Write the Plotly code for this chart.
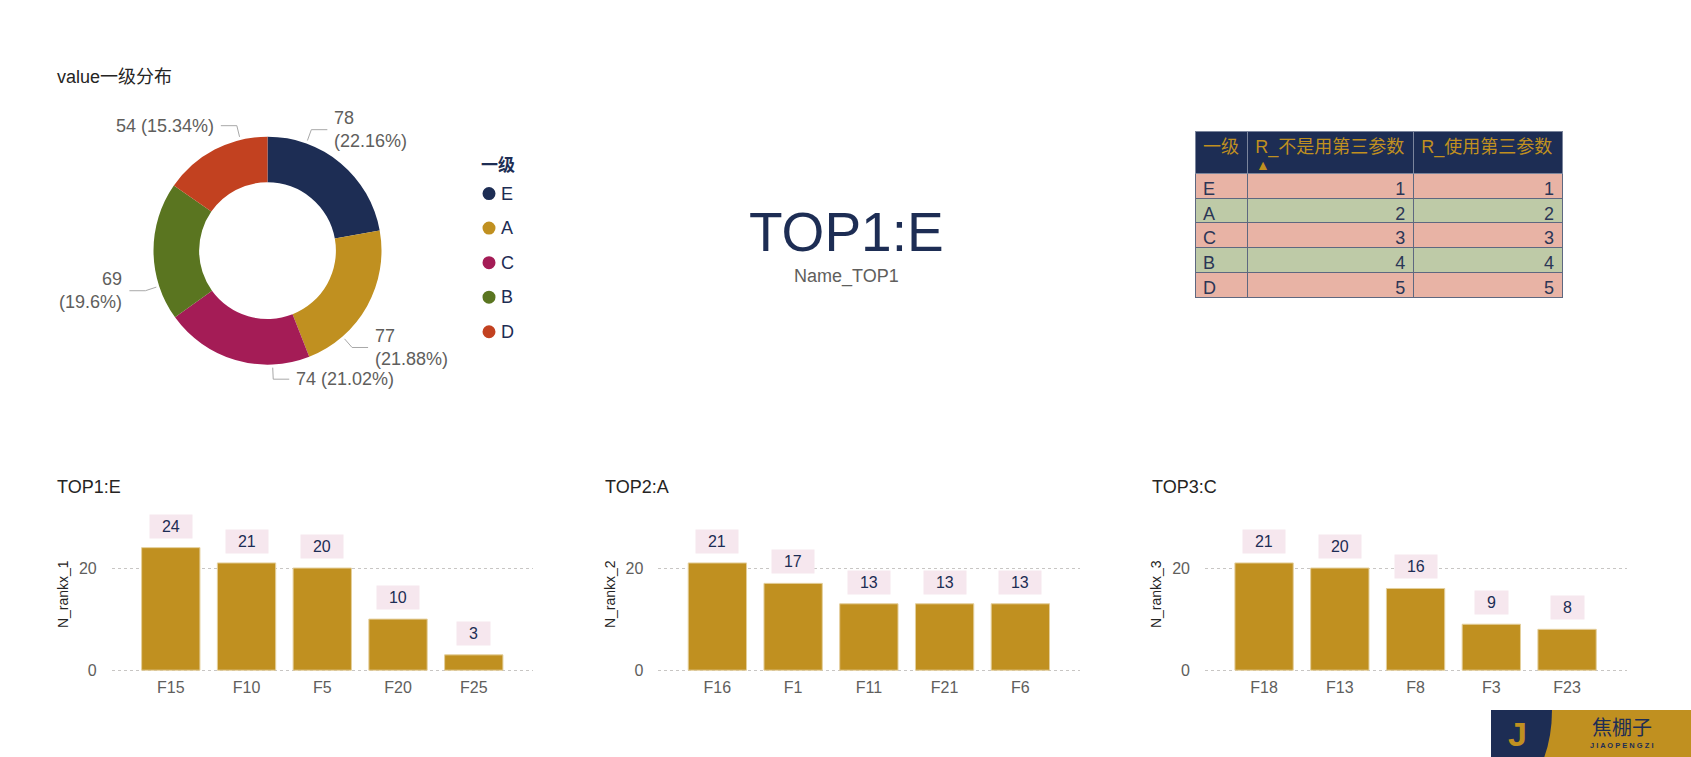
import math
import plotly.graph_objects as go

W = 1691
H = 757            # target picture height (design coordinates)
H_LAYOUT = 765     # figure height; the viewport is photographed at H
SY = H_LAYOUT / H
FONT = "Liberation Sans, Arial, Noto Sans CJK SC, sans-serif"
NAVY = "#1D2D54"
GOLD = "#C09020"
GREY = "#605E5C"
DARK = "#252423"

# ---------------- data ----------------
pie_title = "value一级分布"
legend_title = "一级"
pie_labels = ["E", "A", "C", "B", "D"]
pie_values = [78, 77, 74, 69, 54]
pie_colors = ["#1D2D54", "#C09020", "#A41C56", "#5A7520", "#C24120"]

card_value = "TOP1:E"
card_label = "Name_TOP1"

table_header = ["一级", "R_不是用第三参数", "R_使用第三参数"]
table_cat = ["E", "A", "C", "B", "D"]
table_r_not = [1, 2, 3, 4, 5]
table_r_use = [1, 2, 3, 4, 5]
row_colors = ["#E8B3A5", "#BECAA7", "#E8B3A5", "#BECAA7", "#E8B3A5"]

bar_titles = ["TOP1:E", "TOP2:A", "TOP3:C"]
bar_ytitles = ["N_rankx_1", "N_rankx_2", "N_rankx_3"]
bar_cats_1 = ["F15", "F10", "F5", "F20", "F25"]
bar_vals_1 = [24, 21, 20, 10, 3]
bar_cats_2 = ["F16", "F1", "F11", "F21", "F6"]
bar_vals_2 = [21, 17, 13, 13, 13]
bar_cats_3 = ["F18", "F13", "F8", "F3", "F23"]
bar_vals_3 = [21, 20, 16, 9, 8]


def px(x):
    return x / W


def py(y):
    return 1 - y / H


fig = go.Figure()
shapes = []
annotations = []

# ---------------- donut ----------------
cx, cy, R = 267.5, 250.3, 114
fig.add_trace(go.Pie(
    labels=pie_labels, values=pie_values, sort=False, direction="clockwise",
    rotation=0, hole=0.6, textinfo="none", showlegend=False,
    marker=dict(colors=pie_colors, line=dict(width=0)),
    domain=dict(x=[px(cx - R), px(cx + R)], y=[py(cy + R), py(cy - R)]),
    hoverinfo="label+value+percent",
))

total = sum(pie_values)
acc = 0.0
for lab, v in zip(pie_labels, pie_values):
    a0 = acc / total * 360
    acc += v
    a1 = acc / total * 360
    mid = (a0 + a1) / 2
    q1 = a0 + 0.25 * (a1 - a0)
    q3 = a0 + 0.75 * (a1 - a0)

    def vdist(t):
        m = t % 180
        return min(m, 180 - m)
    th = q1 if vdist(q1) <= vdist(q3) else q3
    s, c = math.sin(math.radians(th)), math.cos(math.radians(th))
    x0, y0 = cx + 117 * s, cy - 117 * c
    x1, y1 = cx + 128.5 * s, cy - 128.5 * c
    side = 1 if s > 0 else -1
    x2 = x1 + side * 16
    shapes.append(dict(type="path", xref="paper", yref="paper",
                       path=f"M {px(x0)},{py(y0)} L {px(x1)},{py(y1)} L {px(x2)},{py(y1)}",
                       line=dict(color="#A8A8A8", width=1)))
    pct = v / total * 100
    pct_s = f"{pct:.2f}".rstrip("0").rstrip(".")
    if abs(math.sin(math.radians(mid))) >= 0.5:
        txt = f"{v}<br>({pct_s}%)"
    else:
        txt = f"{v} ({pct_s}%)"
    annotations.append(dict(
        x=px(x2 + side * 5), y=py(y1), xref="paper", yref="paper", text=txt,
        showarrow=False, xanchor="left" if side > 0 else "right", yanchor="middle",
        align="left" if side > 0 else "right",
        font=dict(family=FONT, size=18, color=GREY)))

annotations.append(dict(x=px(55), y=py(77), xref="paper", yref="paper", text=pie_title,
                        showarrow=False, xanchor="left", yanchor="middle",
                        font=dict(family=FONT, size=18, color=DARK)))

# legend (manual)
annotations.append(dict(x=px(479), y=py(165), xref="paper", yref="paper",
                        text=f"<b>{legend_title}</b>", showarrow=False,
                        xanchor="left", yanchor="middle",
                        font=dict(family=FONT, size=17, color=NAVY)))
for i, (lab, col) in enumerate(zip(pie_labels, pie_colors)):
    yy = 193.3 + i * 34.5
    shapes.append(dict(type="circle", xref="paper", yref="paper",
                       x0=px(482.5), x1=px(495.5), y0=py(yy + 6.5), y1=py(yy - 6.5),
                       fillcolor=col, line=dict(width=0)))
    annotations.append(dict(x=px(498.5), y=py(yy), xref="paper", yref="paper", text=lab,
                            showarrow=False, xanchor="left", yanchor="middle",
                            font=dict(family=FONT, size=18, color=NAVY)))

# ---------------- card ----------------
annotations.append(dict(x=px(846.7), y=py(231.5), xref="paper", yref="paper", text=card_value,
                        showarrow=False, xanchor="center", yanchor="middle",
                        font=dict(family=FONT, size=55, color=NAVY)))
annotations.append(dict(x=px(846.7), y=py(276.5), xref="paper", yref="paper", text=card_label,
                        showarrow=False, xanchor="center", yanchor="middle",
                        font=dict(family=FONT, size=18, color=GREY)))

# ---------------- table ----------------
fig.add_trace(go.Table(
    domain=dict(x=[px(1195), px(1562)], y=[py(330), py(131)]),
    columnwidth=[52.3, 166, 148.7],
    header=dict(values=table_header, fill_color=NAVY, align="left", height=41.7 * SY,
                font=dict(family=FONT, size=18, color=GOLD),
                line=dict(color="#7B859C", width=1)),
    cells=dict(values=[table_cat, table_r_not, table_r_use],
               fill_color=[row_colors] * 3, align=["left", "right", "right"],
               height=24.5 * SY,
               font=dict(family=FONT, size=18, color="#2B3656"),
               line=dict(color="#5E6880", width=1)),
))
annotations.append(dict(x=px(1262.5), y=py(165), xref="paper", yref="paper", text="▲",
                        showarrow=False, xanchor="center", yanchor="middle",
                        font=dict(family=FONT, size=14, color=GOLD)))

# ---------------- bar charts ----------------
cats_list = [bar_cats_1, bar_cats_2, bar_cats_3]
vals_list = [bar_vals_1, bar_vals_2, bar_vals_3]
x_left = [111.7, 658.3, 1205.0]
title_x = [55, 603.3, 1150]
ytitle_x = [63, 610, 1156]
plot_w = 421.6
ppu = 5.1
y0px = 669.3
ymin, ymax = -0.3, 28
layout_axes = {}
for i in range(3):
    n = "" if i == 0 else str(i + 1)
    xa, ya = "x" + n, "y" + n
    fig.add_trace(go.Bar(
        x=cats_list[i], y=vals_list[i], xaxis=xa, yaxis=ya, width=0.77,
        marker=dict(color=GOLD, line=dict(color="#E4CF9C", width=1)),
        showlegend=False, hoverinfo="x+y"))
    layout_axes["xaxis" + n] = dict(
        domain=[px(x_left[i]), px(x_left[i] + plot_w)], anchor=ya,
        range=[-0.78, 4.786], showgrid=False, zeroline=False, showline=False,
        tickfont=dict(family=FONT, size=16, color=GREY), ticks="",
        ticklabelstandoff=4, fixedrange=True)
    layout_axes["yaxis" + n] = dict(
        domain=[py(y0px - ymin * ppu), py(y0px - ymax * ppu)], anchor=xa,
        range=[ymin, ymax],
        tickvals=[0, 20], showgrid=True, gridcolor="#C8C6C4", griddash="dot", gridwidth=1,
        zeroline=False, showline=False, ticks="", ticklabelstandoff=14,
        tickfont=dict(family=FONT, size=16, color=GREY), fixedrange=True)
    for c, v in zip(cats_list[i], vals_list[i]):
        annotations.append(dict(
            x=c, y=v, xref=xa, yref=ya, text=f"&nbsp;&nbsp;{v}&nbsp;&nbsp;",
            showarrow=False, xanchor="center", yanchor="bottom", yshift=9 * SY,
            bgcolor="#F6E7EE", borderpad=3,
            font=dict(family=FONT, size=16, color=NAVY)))
    annotations.append(dict(x=px(title_x[i]), y=py(486.7), xref="paper", yref="paper",
                            text=bar_titles[i], showarrow=False, xanchor="left", yanchor="middle",
                            font=dict(family=FONT, size=18, color=DARK)))
    annotations.append(dict(x=px(ytitle_x[i]), y=py(593.3), xref="paper", yref="paper",
                            text=bar_ytitles[i], showarrow=False, textangle=-90,
                            xanchor="center", yanchor="middle",
                            font=dict(family=FONT, size=14, color=DARK)))

# ---------------- logo ----------------
shapes.append(dict(type="rect", xref="paper", yref="paper", x0=px(1540), x1=1,
                   y0=0, y1=py(709), fillcolor=GOLD, line=dict(width=0), layer="above"))
shapes.append(dict(type="path", xref="paper", yref="paper",
                   path=(f"M {px(1491)},{py(709)} L {px(1552)},{py(709)} "
                         f"Q {px(1552)},{py(735)} {px(1544)},0 L {px(1491)},0 Z"),
                   fillcolor=NAVY, line=dict(width=0), layer="above"))
annotations.append(dict(x=px(1517.5), y=py(733), xref="paper", yref="paper", text="<b>J</b>",
                        showarrow=False, xanchor="center", yanchor="middle",
                        font=dict(family=FONT, size=34, color=GOLD)))
annotations.append(dict(x=px(1621.5), y=py(727.5), xref="paper", yref="paper", text="焦棚子",
                        showarrow=False, xanchor="center", yanchor="middle",
                        font=dict(family=FONT, size=20, color=NAVY)))
annotations.append(dict(x=px(1621.5), y=py(744.5), xref="paper", yref="paper",
                        text="<b>J I A O P E N G Z I</b>", showarrow=False,
                        xanchor="center", yanchor="middle",
                        font=dict(family=FONT, size=7.5, color=NAVY)))

fig.update_layout(
    width=W, height=H_LAYOUT, autosize=False, margin=dict(l=0, r=0, t=0, b=0, pad=0),
    paper_bgcolor="white", plot_bgcolor="white",
    showlegend=False, shapes=shapes, annotations=annotations,
    font=dict(family=FONT), bargap=0.23,
    **layout_axes,
)

fig.write_html("out.html", config=dict(displayModeBar=False, responsive=False))
